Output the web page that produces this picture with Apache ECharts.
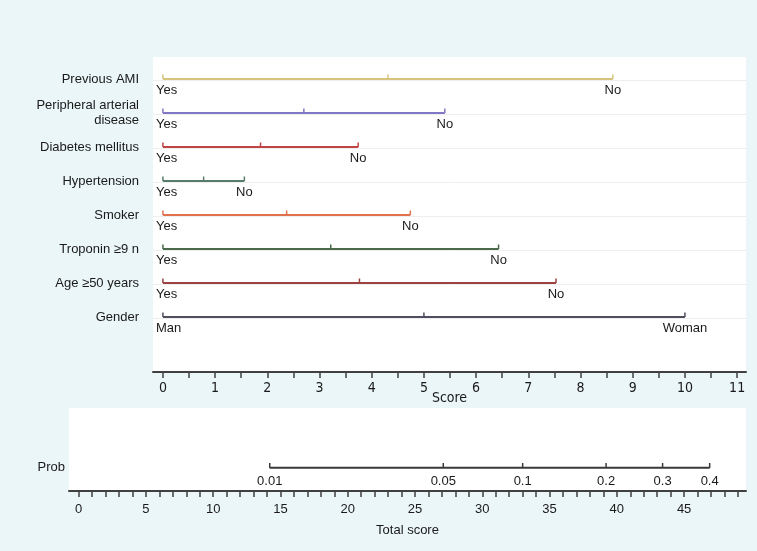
<!DOCTYPE html>
<html>
<head>
<meta charset="utf-8">
<script src="https://cdn.jsdelivr.net/npm/echarts@6/dist/echarts.min.js"></script>
<style>
html,body{margin:0;padding:0;background:#ebf6f8;}
#chart{width:757px;height:551px;}
</style>
</head>
<body>
<div id="chart"></div>
<script>
// ---- data ----
const rowNames = ['Previous AMI', 'Peripheral arterial\ndisease', 'Diabetes mellitus', 'Hypertension', 'Smoker', 'Troponin ≥9 n', 'Age ≥50 years', 'Gender'];
const lowLabels = ['Yes', 'Yes', 'Yes', 'Yes', 'Yes', 'Yes', 'Yes', 'Man'];
const highLabels = ['No', 'No', 'No', 'No', 'No', 'No', 'No', 'Woman'];
const maxPoints = [8.62, 5.40, 3.74, 1.56, 4.74, 6.43, 7.53, 10.0];
const rowColors = ['#d6c47e', '#8078c4', '#bf4444', '#587c6c', '#e0714f', '#4a6a4a', '#9c4242', '#4e4e5e'];

const scoreTicks = [0, 0.5, 1, 1.5, 2, 2.5, 3, 3.5, 4, 4.5, 5, 5.5, 6, 6.5, 7, 7.5, 8, 8.5, 9, 9.5, 10, 10.5, 11];
const scoreLabels = [0, 1, 2, 3, 4, 5, 6, 7, 8, 9, 10, 11];

const totalTicks = [0, 1, 2, 3, 4, 5, 6, 7, 8, 9, 10, 11, 12, 13, 14, 15, 16, 17, 18, 19, 20, 21, 22, 23, 24, 25,
  26, 27, 28, 29, 30, 31, 32, 33, 34, 35, 36, 37, 38, 39, 40, 41, 42, 43, 44, 45, 46, 47, 48, 49];
const totalLabels = [0, 5, 10, 15, 20, 25, 30, 35, 40, 45];

const probValues = ['0.01', '0.05', '0.1', '0.2', '0.3', '0.4'];
const probScores = [14.2, 27.1, 33.0, 39.2, 43.4, 46.9];
const probRow = 0.28;

// ---- chart ----
const chart = echarts.init(document.getElementById('chart'));
const txtFont = '13px "Liberation Sans", Arial, sans-serif';
const narrowFamily = '"Liberation Sans Narrow", "DejaVu Sans Condensed", sans-serif';

const rowData = maxPoints.map((v, i) => [i, v]);
const probData = probScores.map((s, i) => [s, probRow, i]);

const option = {
  animation: false,
  backgroundColor: '#ebf6f8',
  grid: [
    { left: 153, top: 57, width: 593, height: 315, show: true, backgroundColor: '#ffffff', borderWidth: 0 },
    { left: 69, top: 408, width: 677, height: 83, show: true, backgroundColor: '#ffffff', borderWidth: 0 }
  ],
  xAxis: [
    {
      gridIndex: 0, type: 'value', min: -0.19, max: 11.17, position: 'bottom',
      axisLine: { show: true, onZero: false, lineStyle: { color: '#404040', width: 2 } },
      axisTick: { show: true, customValues: scoreTicks, length: 6, lineStyle: { color: '#404040', width: 1.5 } },
      axisLabel: { customValues: scoreLabels, margin: 9, color: '#1a1a1a', fontSize: 14, fontFamily: narrowFamily },
      splitLine: { show: false },
      name: 'Score', nameLocation: 'middle', nameGap: 19, nameMoveOverlap: false,
      nameTextStyle: { color: '#1a1a1a', fontSize: 14, fontFamily: narrowFamily }
    },
    {
      gridIndex: 1, type: 'value', min: -0.72, max: 49.6, position: 'bottom',
      axisLine: { show: true, onZero: false, lineStyle: { color: '#404040', width: 2 } },
      axisTick: { show: true, customValues: totalTicks, length: 6, lineStyle: { color: '#404040', width: 1.5 } },
      axisLabel: { customValues: totalLabels, margin: 12, color: '#1a1a1a', fontSize: 13, fontFamily: '"Liberation Sans", Arial, sans-serif' },
      splitLine: { show: false },
      name: 'Total score', nameLocation: 'middle', nameGap: 33, nameMoveOverlap: false,
      nameTextStyle: { color: '#1a1a1a', fontSize: 13, fontFamily: '"Liberation Sans", Arial, sans-serif' }
    }
  ],
  yAxis: [
    {
      gridIndex: 0, type: 'value', inverse: true, min: -0.647, max: 8.618,
      axisLine: { show: false, onZero: false }, axisTick: { show: false }, splitLine: { show: false },
      axisLabel: {
        customValues: [0, 1, 2, 3, 4, 5, 6, 7], margin: 14, color: '#1a1a1a', fontSize: 13,
        fontFamily: '"Liberation Sans", Arial, sans-serif', lineHeight: 15, align: 'right',
        formatter: v => rowNames[Math.round(v)] || ''
      }
    },
    {
      gridIndex: 1, type: 'value', min: 0, max: 1,
      axisLine: { show: false, onZero: false }, axisTick: { show: false }, splitLine: { show: false },
      axisLabel: {
        customValues: [probRow], margin: 4, color: '#1a1a1a', fontSize: 13,
        fontFamily: '"Liberation Sans", Arial, sans-serif',
        formatter: () => 'Prob'
      }
    }
  ],
  series: [
    {
      type: 'custom', xAxisIndex: 0, yAxisIndex: 0, silent: true, clip: false,
      data: rowData,
      renderItem: function (params, api) {
        const row = api.value(0), v = api.value(1);
        const cs = params.coordSys;
        const p0 = api.coord([0, row]);
        const pm = api.coord([v / 2, row]);
        const p1 = api.coord([v, row]);
        const col = rowColors[row];
        const y = Math.round(p0[1]);
        const tick = (x) => ({ type: 'line', shape: { x1: x, y1: y - 4.5, x2: x, y2: y }, style: { stroke: col, lineWidth: 1.5 } });
        return {
          type: 'group',
          children: [
            { type: 'line', shape: { x1: cs.x, y1: y + 1.5, x2: cs.x + cs.width, y2: y + 1.5 }, style: { stroke: '#eeeeee', lineWidth: 1 } },
            { type: 'line', shape: { x1: p0[0], y1: y, x2: p1[0], y2: y }, style: { stroke: col, lineWidth: 2 } },
            tick(p0[0]), tick(pm[0]), tick(p1[0]),
            { type: 'text', style: { text: lowLabels[row], x: p0[0] - 7, y: y + 11, align: 'left', verticalAlign: 'middle', fill: '#1a1a1a', font: txtFont } },
            { type: 'text', style: { text: highLabels[row], x: p1[0], y: y + 11, align: 'center', verticalAlign: 'middle', fill: '#1a1a1a', font: txtFont } }
          ]
        };
      }
    },
    {
      type: 'line', xAxisIndex: 1, yAxisIndex: 1, silent: true, symbol: 'none',
      data: probScores.map(s => [s, probRow]),
      lineStyle: { color: '#3a3a3a', width: 2 }
    },
    {
      type: 'custom', xAxisIndex: 1, yAxisIndex: 1, silent: true, clip: false,
      data: probData,
      renderItem: function (params, api) {
        const p = api.coord([api.value(0), api.value(1)]);
        const i = api.value(2);
        const y = Math.round(p[1]);
        return {
          type: 'group',
          children: [
            { type: 'line', shape: { x1: p[0], y1: y - 5, x2: p[0], y2: y }, style: { stroke: '#3a3a3a', lineWidth: 1.5 } },
            { type: 'text', style: { text: probValues[i], x: p[0], y: y + 13, align: 'center', verticalAlign: 'middle', fill: '#1a1a1a', font: txtFont } }
          ]
        };
      }
    }
  ]
};
chart.setOption(option);
</script>
</body>
</html>
